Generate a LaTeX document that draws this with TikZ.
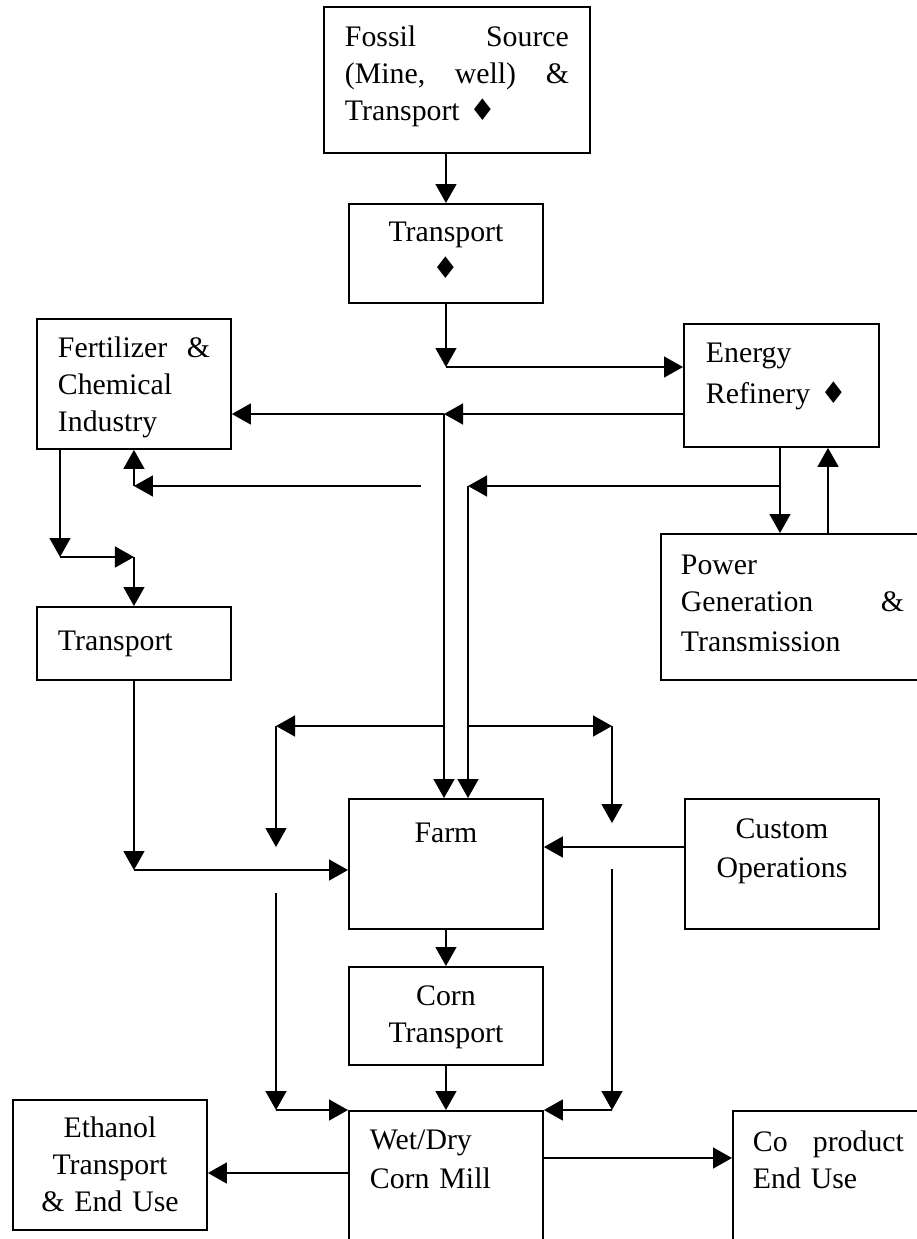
\documentclass[tikz,border=0pt]{standalone}
\usepackage{fontspec}
\setmainfont{Liberation Serif}
\newfontfamily\symfont{DejaVu Sans}[Scale=1.0]
\usetikzlibrary{arrows.meta}
\newcommand\dia{{\symfont ♦}}
\tikzset{
  stage/.style={draw, line width=1.9pt, anchor=north west, inner ysep=0pt},
  lstage/.style={stage, align=left, inner xsep=21pt, text width=152pt},
  cstage/.style={stage, align=center, inner xsep=10pt, text width=174pt},
  seg/.style={line width=1.5pt},
  arr/.style={seg, -{Triangle[length=19pt,width=21pt]}}
}
\begin{document}
\begin{tikzpicture}[x=1pt, y=-1pt, font=\fontsize{29.8pt}{37pt}\selectfont]
  \useasboundingbox (0,0) rectangle (917,1239);
  \clip (0,0) rectangle (917,1239);
  % boxes
  \node[lstage, inner xsep=21pt, text width=224pt, text height=40pt, text depth=106pt] (fossil) at (323,6)
    {Fossil\hfill Source\\(Mine,\hfill well)\hfill\&\\Transport \dia};
  \node[cstage, text height=38pt, text depth=61pt] (tpt1) at (348,203) {Transport\\\dia};
  \node[lstage, text height=39pt, text depth=91pt] (fert) at (36,318) {Fertilizer\hfill\&\\Chemical\\Industry};
  \node[lstage, inner xsep=22pt, text width=151pt, text height=39pt, text depth=84pt] (energy) at (683,323)
    {Energy\\[4pt]Refinery \dia};
  \node[lstage, inner xsep=20pt, text width=223pt, text height=41pt, text depth=105pt] (power) at (660,533)
    {Power\\Generation\hfill\&\\[3pt]Transmission};
  \node[lstage, text height=44pt, text depth=29pt] (tpt2) at (36,606) {Transport};
  \node[cstage, text height=44pt, text depth=86pt] (farm) at (348,798) {Farm};
  \node[cstage, text height=40pt, text depth=90pt] (custom) at (684,798) {Custom\\[2pt]Operations};
  \node[cstage, text height=39pt, text depth=59pt] (corn) at (348,966) {Corn\\Transport};
  \node[lstage, text height=39pt, text depth=101pt] (mill) at (348,1110) {Wet/Dry\\[2pt]Corn Mill};
  \node[cstage, text height=38pt, text depth=92pt] (ethanol) at (12,1099) {Ethanol\\Transport\\\& End Use};
  \node[lstage, inner xsep=20pt, text width=151pt, text height=41pt, text depth=99pt] (coprod) at (732,1110)
    {Co\hfill product\\End Use};
  % junctions
  \coordinate (j1) at (tpt1.south |- 0,367);
  \coordinate (j2) at (444,414);
  \coordinate (f1) at (421,486);
  \coordinate (f2) at (tpt2.north |- 0,486);
  \coordinate (f3) at (60,557);
  \coordinate (f4) at (tpt2.north |- 0,557);
  \coordinate (p1) at (780,486);
  \coordinate (p2) at (468,486);
  \coordinate (p3) at (828,533);
  \coordinate (d1) at (444,726);
  \coordinate (d2) at (276,726);
  \coordinate (d3) at (468,726);
  \coordinate (d4) at (612,726);
  \coordinate (l1) at (276,893);
  \coordinate (r1) at (612,869);
  \coordinate (l2) at (l1 |- mill.north);
  \coordinate (r2) at (r1 |- mill.north);
  \coordinate (t1) at (tpt2.south |- 0,870);
  \coordinate (c1) at (custom.west |- 0,847);
  \coordinate (m1) at (mill.west |- 0,1173);
  \coordinate (m2) at (mill.east |- 0,1158);
  % connectors
  \draw[arr] (fossil.south -| tpt1.north) -- (tpt1.north);
  \draw[arr] (tpt1.south) -- (j1);
  \draw[arr] (j1) -- (j1 -| energy.west);
  \draw[arr] (energy.west |- j2) -- (j2);
  \draw[arr] (j2) -- (j2 -| fert.east);
  \draw[arr] (j2) -- (j2 |- farm.north);
  \draw[arr] (f1) -- (f2);
  \draw[arr] (f2) -- (f2 |- fert.south);
  \draw[arr] (f3 |- fert.south) -- (f3);
  \draw[arr] (f3) -- (f4);
  \draw[arr] (f4) -- (f4 |- tpt2.north);
  \draw[seg] (p1 |- energy.south) -- (p1);
  \draw[arr] (p1) -- (p1 |- power.north);
  \draw[arr] (p1) -- (p2);
  \draw[arr] (p2) -- (p2 |- farm.north);
  \draw[arr] (power.north -| p3) -- (p3 |- energy.south);
  \draw[arr] (d1) -- (d2);
  \draw[arr] (d2) -- (276,847);
  \draw[arr] (d3) -- (d4);
  \draw[arr] (d4) -- (612,823);
  \draw[arr] (l1) -- (l2);
  \draw[arr] (l2) -- (mill.north west);
  \draw[arr] (r1) -- (r2);
  \draw[arr] (r2) -- (mill.north east);
  \draw[arr] (tpt2.south) -- (t1);
  \draw[arr] (t1) -- (t1 -| farm.west);
  \draw[arr] (c1) -- (c1 -| farm.east);
  \draw[arr] (farm.south) -- (corn.north);
  \draw[arr] (corn.south) -- (mill.north);
  \draw[arr] (m1) -- (m1 -| ethanol.east);
  \draw[arr] (m2) -- (m2 -| coprod.west);
\end{tikzpicture}
\end{document}
